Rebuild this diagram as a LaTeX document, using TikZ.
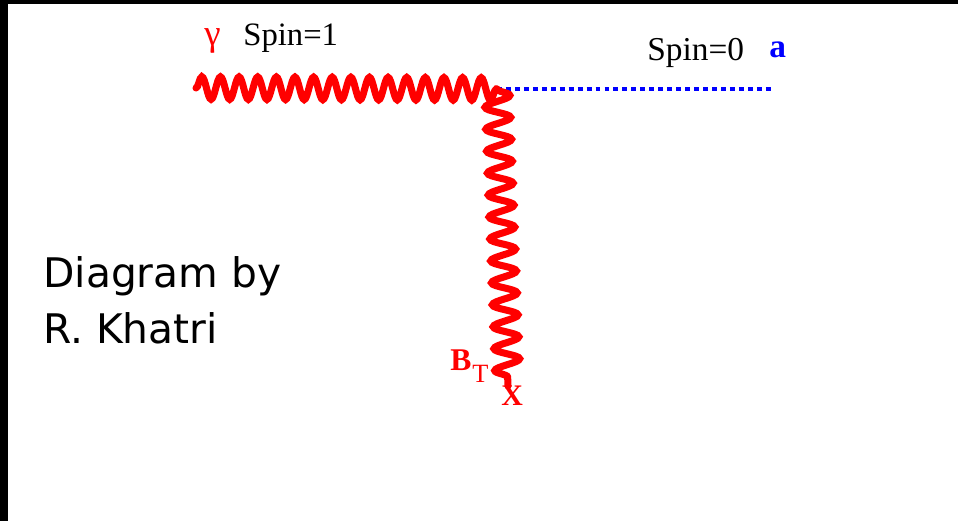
\documentclass[tikz,border=0pt]{standalone}
\usepackage{fontspec}
\setmainfont{Liberation Serif}
\newfontfamily\creditfont{DejaVu Sans}
\usetikzlibrary{decorations.pathmorphing}
\definecolor{photonred}{RGB}{255,0,0}
\definecolor{axionblue}{RGB}{0,0,255}

\begin{document}
\begin{tikzpicture}[x=0.02cm, y=-0.02cm,
  photon/.style={draw=photonred, line width=4pt, line cap=round, decorate,
    decoration={snake, segment length=10.6pt, amplitude=6.4pt}},
  bfield/.style={photon, decoration={snake, segment length=12.5pt, amplitude=7.2pt}},
  scalar/.style={draw=axionblue, line width=2.3pt, dash pattern=on 2.8pt off 2.3pt},
  lbl/.style={inner sep=0pt, anchor=base west}]
  \useasboundingbox (0,0) rectangle (958,521);
  % frame edges
  \fill[black] (0,0) rectangle (958,4);
  \fill[black] (0,0) rectangle (8,521);
  % vertex and line ends
  \coordinate (g) at (196,88);
  \coordinate (v) at (497,89);
  \coordinate (a) at (773,89);
  \coordinate (x) at (508,386);
  % photon, axion, external field
  \draw[photon] (g) -- (v);
  \draw[scalar] (v) -- (a);
  \draw[bfield] (v) -- (x);
  % labels
  \node[lbl, text=photonred, font=\fontsize{21}{24}\selectfont] (gam) at (204,45) {γ};
  \node[lbl, font=\fontsize{18.6}{22}\selectfont] (spin1) at (243,45) {Spin=1};
  \node[lbl, font=\fontsize{19}{23}\selectfont] (spin0) at (647,60) {Spin=0};
  \node[lbl, text=axionblue, font=\fontsize{19}{23}\selectfont\bfseries] (ax) at (769,57) {a};
  \node[lbl, text=photonred, font=\fontsize{18}{22}\selectfont\bfseries] (bt) at (450,370) {B};
  \node[lbl, text=photonred, font=\fontsize{15}{18}\selectfont] (bsub) at (472,382) {T};
  \node[lbl, text=photonred, font=\fontsize{17}{20}\selectfont\bfseries] (xs) at (501,405) {X};
  \node[lbl, align=left, font=\creditfont\fontsize{23.2}{31.7}\selectfont] (credit) at (43,343) {Diagram by\\R. Khatri};
\end{tikzpicture}
\end{document}
